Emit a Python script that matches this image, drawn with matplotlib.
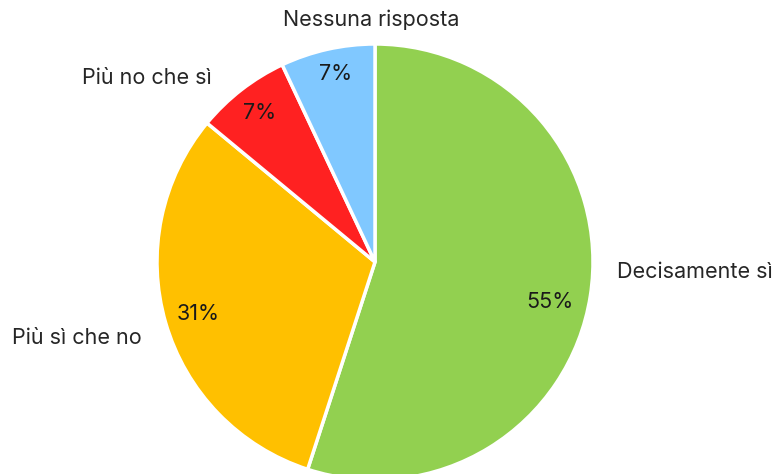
import matplotlib
matplotlib.use("Agg")
import matplotlib.pyplot as plt

categories = ["Decisamente sì", "Più sì che no", "Più no che sì", "Nessuna risposta"]
values = [55, 31, 7, 7]
pct_labels = ["55%", "31%", "7%", "7%"]
colors = ["#92D050", "#FFC000", "#FF2121", "#80C8FF"]

W, H = 777, 474
fig = plt.figure(figsize=(W / 100, H / 100), dpi=100)
ax = fig.add_axes([0, 0, 1, 1])
ax.set_xlim(0, W)
ax.set_ylim(0, H)
ax.set_aspect("equal")
ax.axis("off")

cx, cy, r = 375, H - 262, 218
wedges, _ = ax.pie(values, colors=colors, startangle=90, counterclock=False,
                   center=(cx, cy), radius=r,
                   wedgeprops=dict(edgecolor="white", linewidth=2.5))
ax.set_xlim(0, W)
ax.set_ylim(0, H)

font = ["Inter", "DejaVu Sans"]
# label positions (pixels, from top-left)
cat_pos = [(617, 272, "left"), (12, 338, "left"), (82, 78, "left"), (283, 20, "left")]
pct_pos = [(550, 302), (198, 314), (260, 113), (336, 74)]

for name, (x, y, ha) in zip(categories, cat_pos):
    ax.text(x, H - y, name, ha=ha, va="center", fontsize=15.5, color="#262626", family=font)
for lab, (x, y) in zip(pct_labels, pct_pos):
    ax.text(x, H - y, lab, ha="center", va="center", fontsize=15.5, color="#1a1a1a", family=font)

fig.savefig("out.png", dpi=100)
